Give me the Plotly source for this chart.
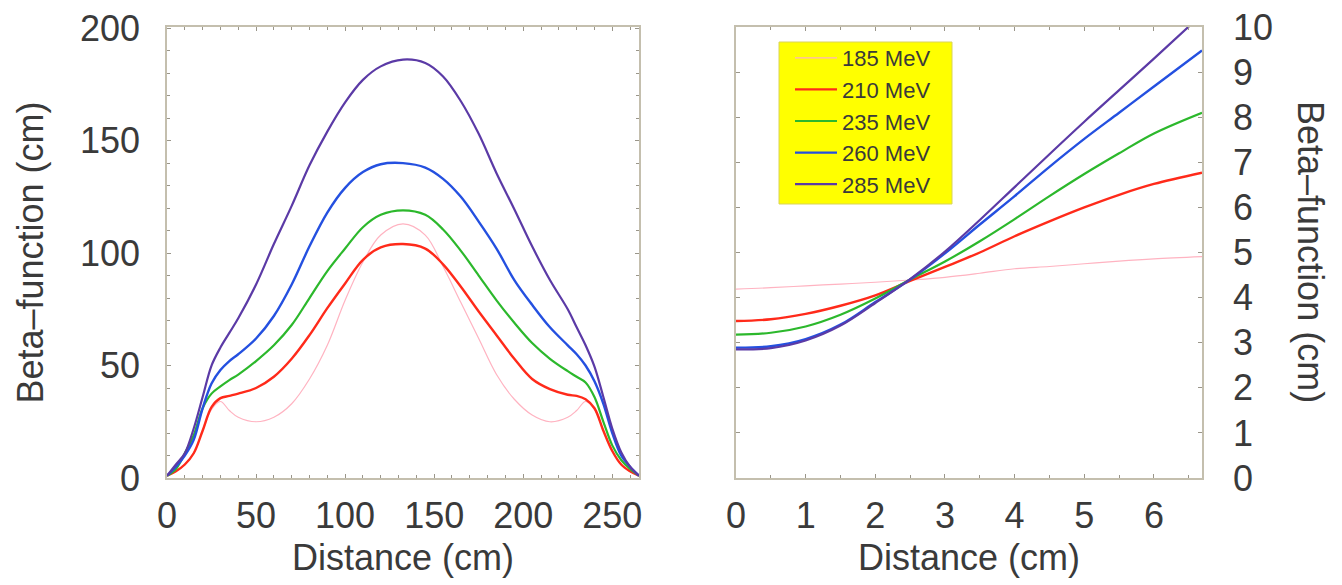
import plotly.graph_objects as go

W, H = 1342, 585

# ---------------- data: left panel (full channel) ----------------
dist_left = [0, 5, 10, 15, 20, 25, 30, 35, 40, 50, 60, 70, 80, 90, 100, 110, 120, 132.5,
             145, 155, 165, 175, 185, 195, 205, 215, 225, 230, 235, 240, 245, 250, 255, 260, 265]
beta_left_185 = [1, 3, 6, 11, 21, 30.5, 34, 30, 27, 25, 27, 33, 44, 59, 79, 96, 108, 113,
                 108, 94, 78, 62, 46, 35, 28, 25, 27, 30, 34, 30.5, 21, 12, 6, 3, 1]
beta_left_210 = [1, 3, 6, 11, 21, 31.5, 35.5, 36.5, 37.5, 40, 45, 53, 63.5, 75.5, 86.5, 97, 102.5, 104,
                 102, 95, 85, 74, 63.5, 53, 44, 39.5, 37, 36.5, 35, 31, 21, 12, 6, 3, 1]
beta_left_235 = [1, 4, 11, 19, 31, 37.5, 40.7, 43.5, 46, 52, 59, 68, 80, 92, 102, 111.5, 117, 119,
                 117, 110.5, 101, 90, 79, 69, 60, 53, 47.5, 45, 42.5, 36, 25, 14.5, 8, 4, 1]
beta_left_260 = [1, 5, 10, 17, 31, 42, 48, 52, 55, 62, 72, 86, 103, 118, 129, 136, 139.5, 140,
                 138, 133, 125, 114, 102, 88, 77, 67, 59, 55, 50, 43, 33, 20, 10, 5, 1]
beta_left_285 = [1, 6, 11, 22, 36, 50, 58, 64.5, 71, 86, 104, 121, 139, 154, 167, 177, 183, 186,
                 184.5, 178.5, 167.5, 153, 135.5, 119.5, 103, 88, 75, 67, 59, 49.5, 36, 22, 11.5, 5, 1]

# ---------------- data: right panel (close-up) ----------------
dist_right = [0, 0.5, 1, 1.5, 2, 2.5, 3, 3.5, 4, 4.5, 5, 5.5, 6, 6.69]
beta_right_185 = [4.19, 4.22, 4.26, 4.30, 4.34, 4.39, 4.45, 4.54, 4.64, 4.69, 4.75, 4.81, 4.86, 4.91]
beta_right_210 = [3.48, 3.52, 3.64, 3.82, 4.05, 4.37, 4.68, 5.00, 5.36, 5.69, 6.00, 6.28, 6.52, 6.77]
beta_right_235 = [3.18, 3.22, 3.36, 3.62, 3.98, 4.40, 4.80, 5.25, 5.74, 6.25, 6.74, 7.20, 7.64, 8.10]
beta_right_260 = [2.89, 2.92, 3.08, 3.40, 3.90, 4.40, 4.98, 5.62, 6.25, 6.90, 7.52, 8.10, 8.68, 9.48]
beta_right_285 = [2.85, 2.88, 3.05, 3.38, 3.88, 4.41, 5.02, 5.72, 6.45, 7.18, 7.90, 8.60, 9.30, 10.28]

energies = ["185 MeV", "210 MeV", "235 MeV", "260 MeV", "285 MeV"]
colors = ["#ffb3c1", "#ff2a1a", "#2cb82c", "#2450e0", "#5b3aa6"]
widths = [1.2, 2.4, 2.2, 2.4, 2.2]

left_series = [beta_left_185, beta_left_210, beta_left_235, beta_left_260, beta_left_285]
right_series = [beta_right_185, beta_right_210, beta_right_235, beta_right_260, beta_right_285]

FONT = "Liberation Sans, Arial, Helvetica, sans-serif"
TXT = "#3a3a3a"
FRAME = "#c4bfae"
FS = 36

fig = go.Figure()
for name, c, w, ys in zip(energies, colors, widths, left_series):
    fig.add_trace(go.Scatter(x=dist_left, y=ys, mode="lines", name=name,
                             line=dict(color=c, width=w, shape="spline", smoothing=1.0),
                             xaxis="x", yaxis="y", showlegend=False))
for name, c, w, ys in zip(energies, colors, widths, right_series):
    fig.add_trace(go.Scatter(x=dist_right, y=ys, mode="lines", name=name,
                             line=dict(color=c, width=w, shape="spline", smoothing=1.0),
                             xaxis="x2", yaxis="y2", showlegend=True))

def px_x(p):
    return p / W

def px_y(p):
    return 1 - p / H

dom_y = [px_y(478), px_y(27)]

common = dict(showline=True, linecolor=FRAME, linewidth=1.5, mirror="allticks",
              ticks="inside", ticklen=4, tickwidth=1, tickcolor="#9a968a",
              showgrid=False, zeroline=False, automargin=False,
              tickfont=dict(family=FONT, size=FS, color=TXT),
              title_font=dict(family=FONT, size=FS, color=TXT))

fig.update_layout(
    width=W, height=H,
    margin=dict(l=0, r=0, t=0, b=0),
    paper_bgcolor="white", plot_bgcolor="white",
    template="none",
    xaxis=dict(domain=[px_x(167), px_x(639)], anchor="y", range=[0, 265],
               tickvals=[0, 50, 100, 150, 200, 250],
               minor=dict(dtick=10, tick0=0, ticks="inside", ticklen=3, tickcolor="#9a968a"),
               ticklabelstandoff=5,
               title=dict(text="Distance (cm)", standoff=10), **common),
    yaxis=dict(domain=dom_y, anchor="x", range=[0, 200.5],
               tickvals=[0, 50, 100, 150, 200],
               minor=dict(dtick=10, tick0=0, ticks="inside", ticklen=3, tickcolor="#9a968a"),
               ticklabelstandoff=18,
               title=dict(text="Beta\u2013function (cm)", standoff=25), **common),
    xaxis2=dict(domain=[px_x(736), px_x(1202)], anchor="y2", range=[0, 6.69],
                tickvals=[0, 1, 2, 3, 4, 5, 6],
                minor=dict(dtick=0.5, tick0=0, ticks="inside", ticklen=3, tickcolor="#9a968a"),
                ticklabelstandoff=5,
                title=dict(text="Distance (cm)", standoff=10), **common),
    yaxis2=dict(domain=dom_y, anchor="x2", range=[0, 10], side="right",
                tickvals=list(range(0, 11)),
                ticklabelstandoff=22, **common),
    legend=dict(x=px_x(790), y=px_y(37), xanchor="left", yanchor="top",
                bgcolor="rgba(0,0,0,0)", borderwidth=0, itemwidth=42,
                font=dict(family=FONT, size=22, color=TXT), tracegroupgap=0),
    shapes=[dict(type="rect", xref="paper", yref="paper",
                 x0=px_x(779), x1=px_x(952), y0=px_y(204), y1=px_y(42),
                 fillcolor="#ffff00", line=dict(color="#d9d35a", width=1), layer="above")],
    annotations=[dict(text="Beta\u2013function (cm)", xref="paper", yref="paper",
                      x=px_x(1311), y=px_y(252), textangle=90, showarrow=False,
                      xanchor="center", yanchor="middle",
                      font=dict(family=FONT, size=FS, color=TXT))],
)

fig.write_html("out.html")
